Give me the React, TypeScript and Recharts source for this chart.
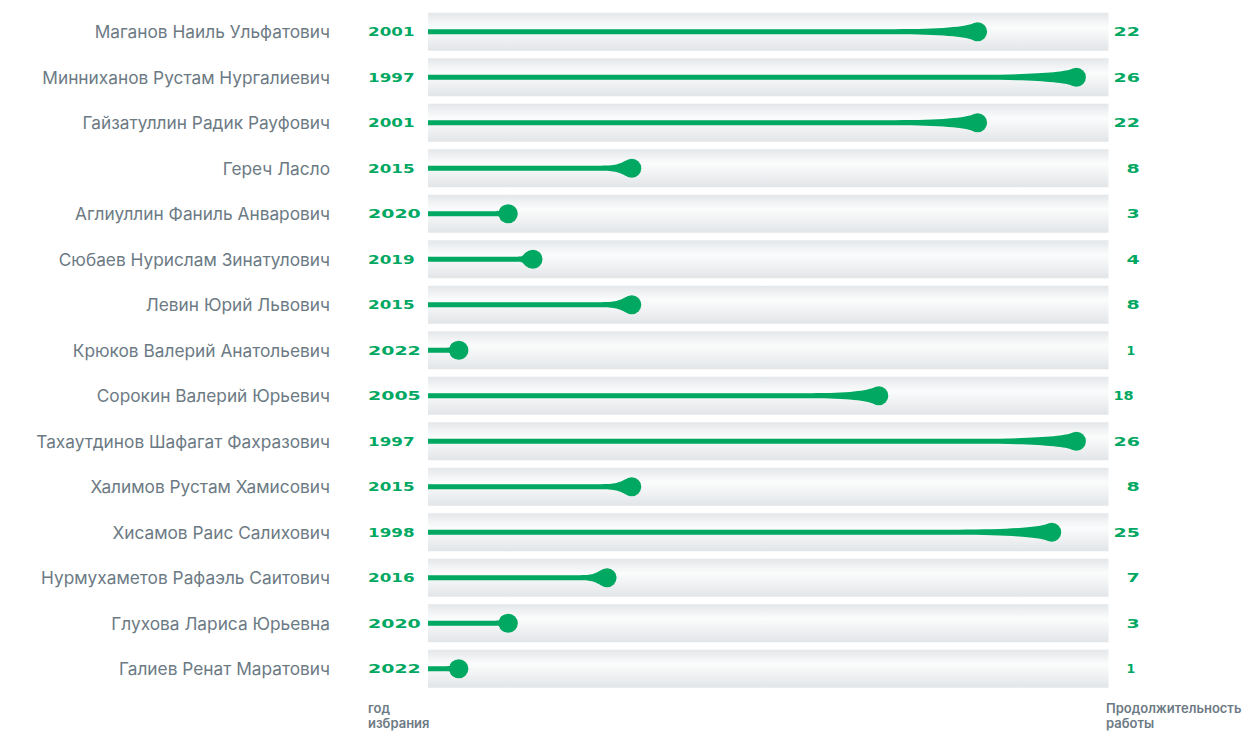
import { BarChart, Bar, XAxis, YAxis } from 'recharts';

const names = [
  'Маганов Наиль Ульфатович',
  'Минниханов Рустам Нургалиевич',
  'Гайзатуллин Радик Рауфович',
  'Гереч Ласло',
  'Аглиуллин Фаниль Анварович',
  'Сюбаев Нурислам Зинатулович',
  'Левин Юрий Львович',
  'Крюков Валерий Анатольевич',
  'Сорокин Валерий Юрьевич',
  'Тахаутдинов Шафагат Фахразович',
  'Халимов Рустам Хамисович',
  'Хисамов Раис Салихович',
  'Нурмухаметов Рафаэль Саитович',
  'Глухова Лариса Юрьевна',
  'Галиев Ренат Маратович',
];
const years = [2001, 1997, 2001, 2015, 2020, 2019, 2015, 2022, 2005, 1997, 2015, 1998, 2016, 2020, 2022];
const tenure = [22, 26, 22, 8, 3, 4, 8, 1, 18, 26, 8, 25, 7, 3, 1];

const data = names.map((name, i) => ({ name, year: years[i], value: tenure[i] }));

const GREEN = '#00a862';
const GREY = '#6c7a84';
const WIDE = '"DejaVu Sans", sans-serif';

// wide display font is not available: stretch glyphs to the reference width
const wideLen = (s: string) => s.split('').reduce((a, c) => a + (c === '1' ? 7 : 13.2), 0);

const NameTick = ({ x, y, payload, index }: any) => {
  const yr = String(data[index]?.year ?? '');
  return (
    <g>
      <text x={x - 98} y={y} textAnchor="end" dominantBaseline="central"
        fill={GREY} style={{ fontFamily: 'Inter, sans-serif', fontSize: 17.3 }}>
        {payload.value}
      </text>
      <text x={x - 60} y={y} dominantBaseline="central" fill={GREEN}
        textLength={wideLen(yr)} lengthAdjust="spacingAndGlyphs"
        style={{ fontFamily: WIDE, fontSize: 12.5, fontWeight: 700 }}>
        {yr}
      </text>
    </g>
  );
};

const Lollipop = (props: any) => {
  const { x, y, width, height, background, value } = props;
  const cy = y + height / 2;
  const x0 = background?.x ?? x;
  const right = background ? background.x + background.width : x + width;
  const cx = x + width;
  const len = cx - x0;
  const taper = Math.max(len * 0.15, 12);
  const hw = 2.6;
  const v = String(Array.isArray(value) ? value[1] - value[0] : value);
  const d = `M${x0},${cy - hw} L${cx - taper},${cy - hw}
    C${cx - taper * 0.45},${cy - hw} ${cx - 12},${cy - 5} ${cx - 4},${cy - 8.5}
    L${cx - 4},${cy + 8.5}
    C${cx - 12},${cy + 5} ${cx - taper * 0.45},${cy + hw} ${cx - taper},${cy + hw}
    L${x0},${cy + hw} Z`;
  const plain = v === '1';
  return (
    <g>
      <path d={d} fill={GREEN} />
      <circle cx={cx} cy={cy} r={9.5} fill={GREEN} />
      <text x={right + (v.length === 1 ? 18 : 5)} y={cy} dominantBaseline="central" fill={GREEN}
        textLength={plain ? undefined : wideLen(v)} lengthAdjust="spacingAndGlyphs"
        style={{ fontFamily: WIDE, fontSize: 12.5, fontWeight: 700 }}>
        {v}
      </text>
    </g>
  );
};

const caption = {
  position: 'absolute' as const,
  top: 701,
  fontFamily: 'Inter, sans-serif',
  fontSize: 13,
  fontWeight: 600,
  lineHeight: '15px',
  color: GREY,
};

export default function App() {
  return (
    <div style={{ position: 'absolute', left: 0, top: 0, width: 1245, height: 734, overflow: 'hidden', background: '#fff' }}>
      <BarChart
        width={1245}
        height={734}
        data={data}
        layout="vertical"
        barSize={38}
        margin={{ top: 8.75, right: 136.5, bottom: 42.75, left: 0 }}
      >
        <defs>
          <linearGradient id="rowBg" x1="0" y1="0" x2="0" y2="1">
            <stop offset="0%" stopColor="#e4e7ea" />
            <stop offset="38%" stopColor="#fbfcfc" />
            <stop offset="100%" stopColor="#e2e5e8" />
          </linearGradient>
        </defs>
        <XAxis type="number" domain={[-0.25, 27.3]} hide />
        <YAxis
          type="category"
          dataKey="name"
          width={428}
          axisLine={false}
          tickLine={false}
          tickSize={0}
          tickMargin={0}
          interval={0}
          tick={<NameTick />}
        />
        <Bar
          dataKey="value"
          background={{ fill: 'url(#rowBg)' }}
          shape={<Lollipop />}
          isAnimationActive={false}
        />
      </BarChart>
      <div style={{ ...caption, left: 368 }}>год<br />избрания</div>
      <div style={{ ...caption, left: 1106 }}>Продолжительность<br />работы</div>
    </div>
  );
}
